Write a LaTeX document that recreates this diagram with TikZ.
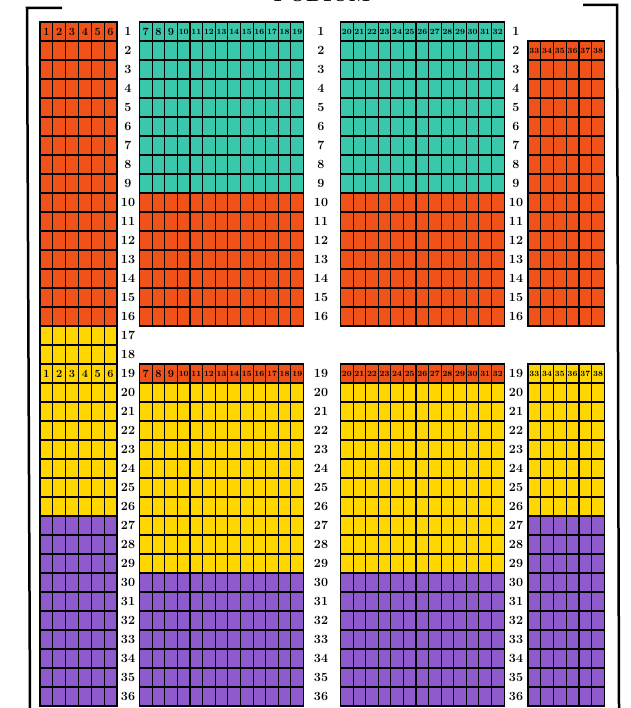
\documentclass[tikz,border=0pt]{standalone}
\usepackage[dvipsnames]{xcolor}
\usepackage{tikz}
\definecolor{seatred}{RGB}{240,82,26}
\definecolor{seatteal}{RGB}{58,200,172}
\definecolor{seatyellow}{RGB}{255,214,0}
\definecolor{seatpurple}{RGB}{142,90,204}

\begin{document}
\begin{tikzpicture}[x=1pt, y=-1pt,
  seat/.style={draw=black, line width=1.1pt},
  rowno/.style={font=\bfseries\fontsize{12.5}{12.5}\selectfont, inner sep=0pt},
  seatno/.style={font=\bfseries\fontsize{11}{11}\selectfont, inner sep=0pt}]
\useasboundingbox (0,0) rectangle (630,708);
\node[font=\bfseries\fontsize{20}{20}\selectfont, anchor=base] (podium) at (322,1.5) {PODIUM};
\foreach \xa/\w/\n/\ra/\rb/\col in {
  40/12.83/6/1/16/seatred, 40/12.83/6/17/26/seatyellow, 40/12.83/6/27/36/seatpurple,
  139.5/12.62/13/1/9/seatteal, 139.5/12.62/13/10/16/seatred, 139.5/12.62/13/19/19/seatred,
  139.5/12.62/13/20/29/seatyellow, 139.5/12.62/13/30/36/seatpurple,
  340.5/12.58/13/1/9/seatteal, 340.5/12.58/13/10/16/seatred, 340.5/12.58/13/19/19/seatred,
  340.5/12.58/13/20/29/seatyellow, 340.5/12.58/13/30/36/seatpurple,
  528/12.75/6/2/16/seatred, 528/12.75/6/19/26/seatyellow, 528/12.75/6/27/36/seatpurple}
  \foreach \r in {\ra,...,\rb}
    \foreach \c in {1,...,\n}
      \draw[seat, fill=\col] ({\xa+(\c-1)*\w},{22+(\r-1)*19}) rectangle ++(\w,19);
\foreach \xa/\w/\first/\last/\r in {40/12.83/1/6/1, 40/12.83/1/6/19,
  139.5/12.62/7/19/1, 139.5/12.62/7/19/19, 340.5/12.58/20/32/1, 340.5/12.58/20/32/19,
  528/12.75/33/38/2, 528/12.75/33/38/19}
  \foreach \s in {\first,...,\last}
    \node[seatno] (s\s-\r) at ({\xa+(\s-\first+0.5)*\w},{22+(\r-0.5)*19})
      {\ifnum\s>9\fontsize{8}{8}\selectfont\fi\s};
\foreach \r in {1,...,36}
  \node[rowno] (la-\r) at (128,{22+(\r-0.5)*19}) {\r};
\foreach \r in {1,...,16,19,20,...,36}{
  \node[rowno] (lb-\r) at (321,{22+(\r-0.5)*19}) {\r};
  \node[rowno] (lc-\r) at (516,{22+(\r-0.5)*19}) {\r};
}
\draw[line width=2.5pt] (62,8) -- (27,8) -- (30,708);
\draw[line width=2.5pt] (583,5) -- (617,5) -- (619,708);
\end{tikzpicture}
\end{document}
